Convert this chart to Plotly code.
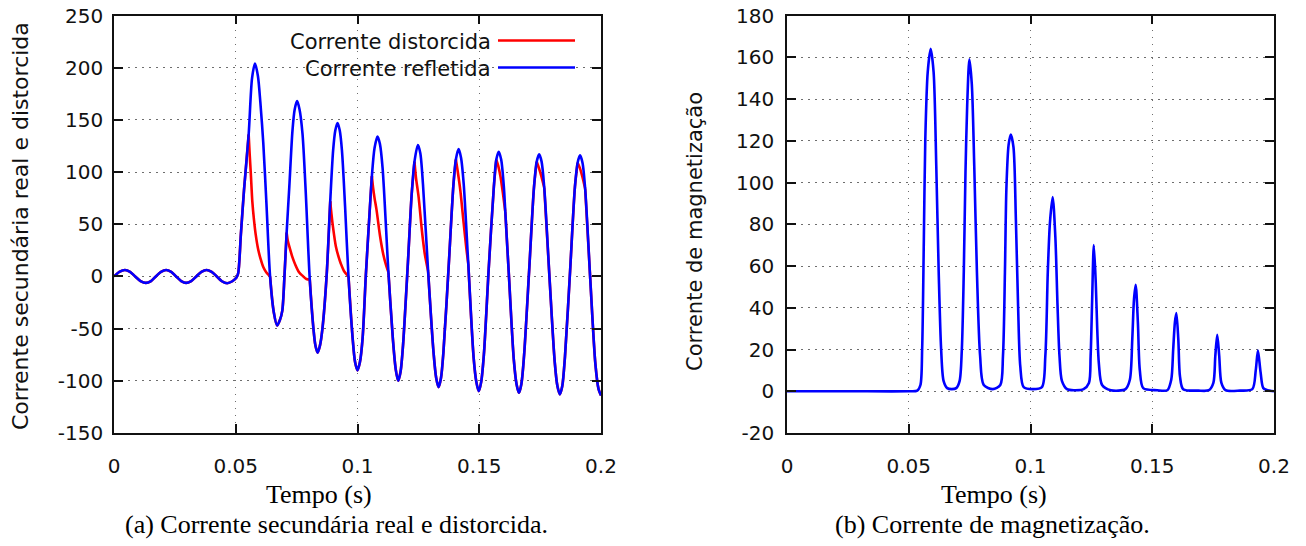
import plotly.graph_objects as go

# ---- axis ticks -------------------------------------------------------------
time_ticks = [0, 0.05, 0.1, 0.15, 0.2]
time_tick_text = ["0", "0.05", "0.1", "0.15", "0.2"]
sec_ticks = [-150, -100, -50, 0, 50, 100, 150, 200, 250]
sec_tick_text = ["-150", "-100", "-50", "0", "50", "100", "150", "200", "250"]
mag_ticks = [-20, 0, 20, 40, 60, 80, 100, 120, 140, 160, 180]
mag_tick_text = ["-20", "0", "20", "40", "60", "80", "100", "120", "140", "160", "180"]

# ---- corrente refletida (s, A) ---------------------------------------------
refl_t = [
    0.0000, 0.0022, 0.0045, 0.0066, 0.0087, 0.0109, 0.0131, 0.0152, 0.0172,
    0.0193, 0.0214, 0.0235, 0.0255, 0.0276, 0.0296, 0.0317, 0.0338, 0.0359,
    0.0380, 0.0401, 0.0422, 0.0443, 0.0465, 0.0486, 0.0503, 0.0510, 0.0521,
    0.0534, 0.0553, 0.0567, 0.0579, 0.0591, 0.0601, 0.0613, 0.0626, 0.0641,
    0.0656, 0.0670, 0.0681, 0.0691, 0.0700, 0.0709, 0.0720, 0.0733, 0.0742,
    0.0752, 0.0762, 0.0774, 0.0787, 0.0804, 0.0819, 0.0827, 0.0836, 0.0846,
    0.0856, 0.0873, 0.0888, 0.0900, 0.0909, 0.0918, 0.0927, 0.0936, 0.0949,
    0.0963, 0.0980, 0.0990, 0.1000, 0.1010, 0.1021, 0.1034, 0.1048, 0.1059,
    0.1070, 0.1082, 0.1092, 0.1103, 0.1127, 0.1146, 0.1157, 0.1167, 0.1177,
    0.1187, 0.1207, 0.1222, 0.1234, 0.1248, 0.1258, 0.1269, 0.1290, 0.1312,
    0.1323, 0.1333, 0.1343, 0.1353, 0.1374, 0.1394, 0.1404, 0.1415, 0.1425,
    0.1436, 0.1455, 0.1477, 0.1488, 0.1498, 0.1508, 0.1519, 0.1539, 0.1560,
    0.1570, 0.1580, 0.1590, 0.1601, 0.1607, 0.1622, 0.1642, 0.1653, 0.1663,
    0.1673, 0.1684, 0.1705, 0.1725, 0.1736, 0.1746, 0.1756, 0.1767, 0.1789,
    0.1810, 0.1821, 0.1831, 0.1841, 0.1852, 0.1873, 0.1893, 0.1904, 0.1914,
    0.1924, 0.1935, 0.1956, 0.1977, 0.1990, 0.2000,
]
refl_v = [
    0, 4.4, 6.2, 4.4, 0, -4.4, -6.2, -4.4, 0,
    4.4, 6.2, 4.4, 0, -4.4, -6.2, -4.4, 0, 4.4,
    6.2, 4.4, 0, -4.6, -6.5, -4.6, -1, 3, 40,
    83, 136, 190, 204, 192, 167, 128, 70, 0,
    -34, -47, -42, -33, 0, 42, 86, 140, 160,
    168, 160, 137, 83, -3, -50, -66, -73, -66,
    -50, 0, 72, 121, 140, 147, 140, 121, 67,
    0, -59, -82, -90, -82, -59, 0, 55, 96,
    123, 134, 127, 104, 4, -62, -89, -100, -91,
    -66, 13, 77, 110, 126, 118, 88, 5, -72,
    -97, -106, -97, -72, 8, 88, 112, 122, 114,
    89, 12, -78, -101, -110, -101, -75, 8, 86,
    112, 119.5, 112, 86, 62, 0, -80, -103, -111.5,
    -103, -76, 6, 86, 110, 117, 110, 85, -3,
    -82, -105, -113, -105, -77, 5, 86, 109, 116,
    109, 84, -3, -84, -108, -114,
]

# ---- corrente distorcida: trechos de decaimento apos cada pico --------------
# fora destes trechos a corrente distorcida coincide com a refletida
dist_tooth_t = [
    [0.0553, 0.0557, 0.0562, 0.0568, 0.0575, 0.0582, 0.0592, 0.0603, 0.0613, 0.0625, 0.0641],
    [0.0709, 0.0714, 0.0722, 0.0732, 0.0745, 0.0760, 0.0775, 0.0790, 0.0804],
    [0.0888, 0.0893, 0.0899, 0.0911, 0.0922, 0.0932, 0.0945, 0.0963],
    [0.1059, 0.1064, 0.1070, 0.1078, 0.1093, 0.1106, 0.1117, 0.1127],
    [0.1234, 0.1240, 0.1251, 0.1264, 0.1276, 0.1290],
    [0.1404, 0.1412, 0.1422, 0.1436, 0.1447, 0.1455],
    [0.1570, 0.1578, 0.1587, 0.1597, 0.1607],
    [0.1736, 0.1745, 0.1756, 0.1767],
    [0.1904, 0.1913, 0.1924, 0.1935],
]
dist_tooth_v = [
    [136, 118, 98, 72, 54, 40, 26, 16, 9, 4, 0],
    [42, 34, 27, 19, 11, 4, 0.5, -2.5, -3],
    [72, 60, 48, 29, 19, 12, 5, 0],
    [96, 85, 75, 64, 38, 21, 11, 4],
    [110, 95, 76, 45, 22, 5],
    [112, 100, 83, 51, 27, 12],
    [112, 106, 96, 80, 62],
    [110, 104, 95, 85],
    [109, 104, 95, 84],
]

# ---- corrente de magnetizacao ----------------------------------------------
mag_t = [
    0.0000, 0.0250, 0.0500, 0.0535, 0.0548, 0.0555, 0.0562, 0.0568, 0.0578,
    0.0590, 0.0602, 0.0613, 0.0623, 0.0633, 0.0643, 0.0658, 0.0676, 0.0695,
    0.0709, 0.0718, 0.0726, 0.0733, 0.0740, 0.0749, 0.0759, 0.0769, 0.0780,
    0.0793, 0.0808, 0.0845, 0.0876, 0.0887, 0.0895, 0.0901, 0.0910, 0.0919,
    0.0930, 0.0940, 0.0949, 0.0958, 0.0972, 0.1010, 0.1047, 0.1061, 0.1071,
    0.1080, 0.1091, 0.1102, 0.1111, 0.1119, 0.1129, 0.1150, 0.1180, 0.1218,
    0.1240, 0.1247, 0.1253, 0.1260, 0.1268, 0.1274, 0.1281, 0.1294, 0.1330,
    0.1390, 0.1408, 0.1418, 0.1425, 0.1432, 0.1441, 0.1449, 0.1463, 0.1520,
    0.1562, 0.1578, 0.1586, 0.1593, 0.1599, 0.1607, 0.1614, 0.1627, 0.1690,
    0.1733, 0.1751, 0.1759, 0.1767, 0.1775, 0.1784, 0.1801, 0.1860, 0.1911,
    0.1925, 0.1934, 0.1945, 0.1956, 0.1973, 0.2000,
]
mag_v = [
    0, 0, 0, 0.3, 3, 20, 73, 121, 153,
    164, 153, 108, 57, 20, 5, 1.5, 1, 1.5,
    5, 20, 57, 105, 137, 159, 147, 108, 57,
    17, 3, 1, 3, 17, 57, 97, 118, 123,
    117, 82, 41, 12, 2, 1, 2, 17, 57,
    81, 93, 74, 41, 17, 5, 1, 0.5, 1,
    4, 17, 43, 70, 52, 30, 13, 3, 0.5,
    1, 5.5, 25, 44, 51, 33, 10, 1.5, 0.5,
    0.5, 5.5, 20, 33, 37.5, 25, 7, 1, 0.3,
    0.5, 4, 17, 27, 17, 4, 0.5, 0.3, 1,
    10, 19.5, 9, 1.5, 0.5, 0,
]

RED = "#ff0000"
BLUE = "#0000ff"
LW = 2.6
SANS = "DejaVu Sans"
SERIF = "Liberation Serif"


def refl_between(t0, t1):
    """Samples of the reflected current with t0 <= t <= t1."""
    ts, vs = [], []
    for t, v in zip(refl_t, refl_v):
        if t0 - 1e-9 <= t <= t1 + 1e-9:
            ts.append(t)
            vs.append(v)
    return ts, vs


def curve(xs, ys, color, xa, ya):
    return go.Scatter(
        x=xs, y=ys, mode="lines", xaxis=xa, yaxis=ya,
        line=dict(color=color, width=LW, shape="spline", smoothing=0.8),
        showlegend=False, hoverinfo="skip",
    )


fig = go.Figure()

# distorted current: follows the reflected one, breaking off at each decay
start = refl_t[0]
for tt, vv in zip(dist_tooth_t, dist_tooth_v):
    ft, fv = refl_between(start, tt[0])
    fig.add_trace(curve(ft, fv, RED, "x", "y"))
    fig.add_trace(curve(tt, vv, RED, "x", "y"))
    start = tt[-1]
ft, fv = refl_between(start, refl_t[-1])
fig.add_trace(curve(ft, fv, RED, "x", "y"))

# reflected current drawn on top
fig.add_trace(curve(refl_t, refl_v, BLUE, "x", "y"))

# magnetizing current
fig.add_trace(curve(mag_t, mag_v, BLUE, "x2", "y2"))

W, H = 1306, 546


def px(x):
    return x / W


def py(y):
    return 1 - y / H


axis_common = dict(
    automargin=False,
    ticks="inside", ticklen=9, tickwidth=1.5, tickcolor="#111",
    showline=True, linecolor="#111", linewidth=1.5, mirror="ticks",
    showgrid=True, gridcolor="#6e6e6e", gridwidth=1.3, griddash="1.5px,5.5px",
    zeroline=False, tickfont=dict(family=SANS, size=20, color="#111"),
    tickmode="array", fixedrange=True,
)

fig.update_layout(
    template="none",
    width=W, height=H, autosize=False,
    margin=dict(l=0, r=0, t=0, b=0, pad=0, autoexpand=False),
    paper_bgcolor="white", plot_bgcolor="white",
    showlegend=False,
    xaxis=dict(domain=[px(114), px(601)], range=[0, 0.2], anchor="y",
               tickvals=time_ticks, ticktext=time_tick_text,
               ticklabelstandoff=14, **axis_common),
    yaxis=dict(domain=[py(433), py(15.5)], range=[-150, 250], anchor="x",
               tickvals=sec_ticks, ticktext=sec_tick_text,
               ticklabelstandoff=5, **axis_common),
    xaxis2=dict(domain=[px(787), px(1274)], range=[0, 0.2], anchor="y2",
                tickvals=time_ticks, ticktext=time_tick_text,
                ticklabelstandoff=14, **axis_common),
    yaxis2=dict(domain=[py(433), py(15.5)], range=[-20, 180], anchor="x2",
                tickvals=mag_ticks, ticktext=mag_tick_text,
                ticklabelstandoff=7, **axis_common),
)

annotations = [
    # y-axis titles
    dict(text="Corrente secundária real e distorcida", x=px(21), y=py(226),
         textangle=-90, font=dict(family=SANS, size=22, color="#111")),
    dict(text="Corrente de magnetização", x=px(695), y=py(232),
         textangle=-90, font=dict(family=SANS, size=21, color="#111")),
    # x-axis titles
    dict(text="Tempo (s)", x=px(319), y=py(494),
         font=dict(family=SERIF, size=26, color="black")),
    dict(text="Tempo (s)", x=px(994), y=py(494),
         font=dict(family=SERIF, size=26, color="black")),
    # captions
    dict(text="(a) Corrente secundária real e distorcida.", x=px(336), y=py(524),
         font=dict(family=SERIF, size=26, color="black")),
    dict(text="(b) Corrente de magnetização.", x=px(992), y=py(524),
         font=dict(family=SERIF, size=26, color="black")),
    # legend entries
    dict(text="Corrente distorcida", x=px(493), y=py(42), xanchor="right",
         font=dict(family=SANS, size=21, color="#111")),
    dict(text="Corrente refletida", x=px(493), y=py(69), xanchor="right",
         font=dict(family=SANS, size=21, color="#111")),
]
for a in annotations:
    a.setdefault("xanchor", "center")
    a.update(xref="paper", yref="paper", yanchor="middle", showarrow=False)
fig.update_layout(annotations=annotations)

fig.update_layout(shapes=[
    dict(type="line", xref="paper", yref="paper", x0=px(498), x1=px(575),
         y0=py(40.5), y1=py(40.5), line=dict(color=RED, width=LW)),
    dict(type="line", xref="paper", yref="paper", x0=px(498), x1=px(575),
         y0=py(67.5), y1=py(67.5), line=dict(color=BLUE, width=LW)),
])

fig.write_html("out.html")
